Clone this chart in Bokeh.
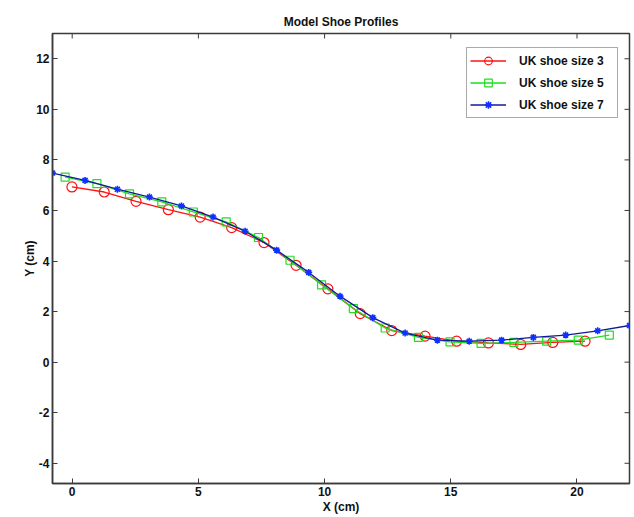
import math
from bokeh.plotting import figure
from bokeh.models import FixedTicker, Range1d, Legend, LegendItem
from bokeh.embed import file_html
from bokeh.resources import INLINE

# ---- data ----
x_size3 = [-0.01, 1.27, 2.53, 3.81, 5.07, 6.32, 7.60, 8.87, 10.13, 11.41, 12.66,
           13.98, 15.23, 16.49, 17.77, 19.04, 20.32]
y_size3 = [6.93, 6.73, 6.36, 6.03, 5.74, 5.32, 4.73, 3.83, 2.90, 1.92, 1.25,
           1.03, 0.83, 0.76, 0.70, 0.78, 0.83]

x_size5 = [-0.28, 0.98, 2.27, 3.55, 4.80, 6.10, 7.38, 8.63, 9.88, 11.14, 12.40,
           13.72, 14.97, 16.20, 17.50, 18.80, 20.05, 21.28]
y_size5 = [7.32, 7.06, 6.66, 6.34, 5.94, 5.55, 4.93, 4.03, 3.06, 2.12, 1.35,
           0.98, 0.80, 0.74, 0.78, 0.83, 0.87, 1.07]

x_size7 = [-0.78, 0.51, 1.79, 3.06, 4.33, 5.58, 6.85, 8.10, 9.37, 10.61, 11.91,
           13.19, 14.47, 15.73, 17.01, 18.27, 19.55, 20.82, 22.08]
y_size7 = [7.48, 7.19, 6.84, 6.53, 6.18, 5.74, 5.18, 4.43, 3.55, 2.61, 1.76,
           1.15, 0.87, 0.83, 0.87, 0.98, 1.07, 1.24, 1.45]

labels = ["UK shoe size 3", "UK shoe size 5", "UK shoe size 7"]
x_ticks = [0, 5, 10, 15, 20]
y_ticks = [-4, -2, 0, 2, 4, 6, 8, 10, 12]
X_MIN, X_MAX = -0.78, 22.08
Y_MIN, Y_MAX = -4.8, 13.0

FONT = "Liberation Sans"
AX = "#3a3a3a"

p = figure(width=634, height=517, output_backend="svg", toolbar_location=None,
           x_range=Range1d(X_MIN, X_MAX), y_range=Range1d(Y_MIN, Y_MAX),
           min_border_left=52, min_border_right=5, min_border_top=33,
           min_border_bottom=34, background_fill_color="white",
           border_fill_color="white")
p.grid.visible = False
p.outline_line_color = AX
p.outline_line_width = 1.5

p.title.text = "Model Shoe Profiles"
p.title.align = "center"
p.title.text_font = FONT
p.title.text_font_size = "12px"
p.title.text_font_style = "bold"
p.title.text_color = "#111111"

for ax in (p.xaxis[0], p.yaxis[0]):
    ax.major_tick_in = 5
    ax.major_tick_out = 0
    ax.minor_tick_line_color = None
    ax.axis_line_color = AX
    ax.axis_line_width = 1.5
    ax.major_tick_line_color = AX
    ax.major_label_text_font = FONT
    ax.major_label_text_font_size = "12px"
    ax.major_label_text_font_style = "bold"
    ax.major_label_text_color = "#111111"
    ax.axis_label_text_font = FONT
    ax.axis_label_text_font_size = "12px"
    ax.axis_label_text_font_style = "bold"
    ax.axis_label_text_color = "#111111"

p.xaxis[0].ticker = FixedTicker(ticks=x_ticks)
p.yaxis[0].ticker = FixedTicker(ticks=y_ticks)
p.yaxis[0].major_label_overrides = {t: str(t) for t in y_ticks if t < 0}
p.xaxis[0].axis_label = "X (cm)"
p.yaxis[0].axis_label = "Y (cm)"
p.xaxis[0].major_label_standoff = 3
p.xaxis[0].axis_label_standoff = 1
p.yaxis[0].major_label_standoff = 3
p.yaxis[0].axis_label_standoff = -4

# inward ticks on the top and right edges of the box
p.ray(x=x_ticks, y=[Y_MAX] * len(x_ticks), length=5, length_units="screen",
      angle=-math.pi / 2, line_color=AX, line_width=1)
p.ray(x=[X_MAX] * len(y_ticks), y=y_ticks, length=5, length_units="screen",
      angle=math.pi, line_color=AX, line_width=1)

# series
r3l = p.line(x_size3, y_size3, line_color="#ff1010", line_width=1.3)
r3m = p.scatter(x_size3, y_size3, marker="circle", size=10, fill_color=None,
                line_color="#ff1010", line_width=1.2)
r5l = p.line(x_size5, y_size5, line_color="#22dd22", line_width=1.3)
r5m = p.scatter(x_size5, y_size5, marker="square", size=8, fill_color=None,
                line_color="#22dd22", line_width=1.2)
r7l = p.line(x_size7, y_size7, line_color="#101c96", line_width=1.3)
r7m = p.scatter(x_size7, y_size7, marker="asterisk", size=7, fill_color=None,
                line_color="#1030ff", line_width=1.6)

legend = Legend(items=[
    LegendItem(label=labels[0], renderers=[r3l, r3m]),
    LegendItem(label=labels[1], renderers=[r5l, r5m]),
    LegendItem(label=labels[2], renderers=[r7l, r7m]),
], location=(414, 365))
legend.label_text_font = FONT
legend.label_text_font_size = "12px"
legend.label_text_font_style = "bold"
legend.label_text_color = "#111111"
legend.glyph_width = 36
legend.glyph_height = 19
legend.label_height = 19
legend.label_width = 95
legend.label_standoff = 13
legend.spacing = 3
legend.padding = 3
legend.margin = 0
legend.border_line_color = "#555555"
legend.border_line_width = 1
legend.background_fill_color = "white"
legend.background_fill_alpha = 1.0
p.add_layout(legend, "center")

open("out.html", "w").write(file_html(p, INLINE))
